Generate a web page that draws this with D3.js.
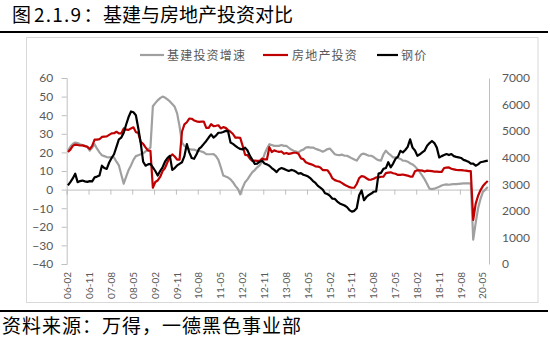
<!DOCTYPE html>
<html><head><meta charset="utf-8">
<script src="https://cdn.jsdelivr.net/npm/d3@7"></script>
<style>body{margin:0;background:#fff}svg{display:block}</style>
</head><body>
<svg id="c" width="550" height="346"></svg>
<script>
// ---- data ----
const titleParts = ["图", "2.1.9", "：", "基建与房地产投资对比"];
const sourceText = "资料来源：万得，一德黑色事业部";
const seriesNames = ["基建投资增速", "房地产投资", "钢价"];
const firstMonth = "2006-02";
const leftTicks = [60, 50, 40, 30, 20, 10, 0, -10, -20, -30, -40];
const rightTicks = [7000, 6000, 5000, 4000, 3000, 2000, 1000, 0];
const xTickLabels = ["06-02","06-11","07-08","08-05","09-02","09-11","10-08","11-05","12-02","12-11",
  "13-08","14-05","15-02","15-11","16-08","17-05","18-02","18-11","19-08","20-05"];

const infraGrowth = [
  21,23,24.5,25.3,25,24.4,24,23.5,23,21,
  22.5,24.4,22,20,18.5,18,17.5,17.3,17.5,17.3,
  15,13,8,3.2,7,10.5,13,16,18,18.5,
  19,19.5,20.5,21.5,22.6,44.8,46.5,48,49.2,50,
  49.5,48.5,47.4,46,44.5,41,34,25.3,23.5,22.5,
  21.8,21.5,21.5,21,20.9,20.5,20,19.1,19,19,
  19.1,18,16,12,7.6,7,6.5,5.5,4,2,
  0.5,-2.5,1,4,5.5,7.5,9.4,10.5,12,13,
  15,19,22,24.4,24,23.5,23.5,23.5,24,23.5,
  23.5,22.5,21.5,20.9,20.5,20,21,21.5,22.6,22.8,
  22.6,22.6,22,21.5,21,20.4,21,21.8,22,20.5,
  19,18.6,18.5,18.8,18.2,18.2,17.5,16.8,16.2,15.6,
  17.5,19.1,19.3,18.8,18.2,18.2,17.5,16.5,15.8,15.6,
  19,20.9,19.5,18.5,17.3,17.3,17,16.5,15.6,15.5,
  15,14.1,13.5,12.5,11,9.4,7.5,5.5,3,0.5,
  0.3,0.5,1,1.5,2.2,2.6,2.8,2.6,2.8,3,
  2.9,3.1,3.2,3.3,3.3,3.4,3.4,-26.9,-18,-10,
  -5,-1.2,0,1.4
];

const realEstate = [
  20.2,21.5,23.5,24.2,24.0,23.7,23.8,23.4,23.0,21.8,
  23.5,26.9,26.9,27.1,28.3,28.5,28.6,29.4,30.2,30.3,
  31.1,30.2,30.2,32.9,32.2,32.1,32.9,33.5,30.9,30.5,
  25.6,24.6,22.7,20.9,20.9,1.0,4.1,4.9,6.8,9.9,
  11.6,14.7,17.7,18.9,17.8,16.1,16.1,31.1,35.1,36.2,
  38.2,38.1,37.2,36.7,36.4,36.5,36.5,33.2,33.2,35.2,
  34.1,34.3,34.6,32.9,33.6,33.2,32.0,31.1,29.9,27.9,
  27.9,27.8,23.5,18.7,18.5,16.6,15.4,15.6,15.4,15.4,
  16.7,16.2,16.2,22.8,20.2,21.1,20.6,20.3,20.5,19.3,
  19.7,19.2,19.5,19.8,19.8,19.3,16.8,16.4,14.7,14.1,
  13.7,13.2,12.5,12.4,11.9,10.5,10.5,10.4,8.5,6.0,
  5.1,4.6,4.3,3.5,2.6,2.0,1.3,1.0,1.0,3.0,
  6.2,7.2,7.0,6.1,5.3,5.4,5.8,6.6,6.5,6.9,
  6.9,8.9,9.1,9.3,8.8,8.5,7.9,7.9,8.1,7.8,
  7.5,7.0,7.0,9.9,10.4,10.3,10.2,9.7,10.2,10.1,
  9.9,9.7,9.7,9.5,9.5,11.6,11.8,11.9,11.2,10.9,
  10.6,10.5,10.5,10.3,10.2,9.9,9.9,-16.3,-7.7,-3.3,
  -0.3,1.9,3.4,4.6
];

const steelPrice = [
  2960,3080,3220,3400,3080,3120,3140,3110,3090,3120,
  3110,3260,3290,3330,3700,3610,3580,3820,3990,4130,
  4410,4690,4760,4940,5250,5530,5740,5710,5600,5110,
  4550,3850,3700,3750,3770,3640,3500,3330,3500,3640,
  3850,3990,4070,3540,3610,3710,3770,3830,4060,4510,
  4200,3990,3960,4130,4330,4410,4520,4630,4760,4880,
  4760,4830,4940,4940,4970,5010,4990,4570,4520,4450,
  4380,4330,4310,4380,4270,4070,3920,3770,3780,3850,
  3890,3780,3750,3700,3610,3540,3460,3570,3610,3580,
  3540,3500,3540,3520,3470,3400,3420,3360,3330,3290,
  3220,3120,3050,2940,2870,2800,2660,2630,2560,2460,
  2450,2350,2280,2240,2200,2140,2030,1970,2000,2100,
  2590,2770,2400,2520,2600,2650,2720,2730,3400,3430,
  3580,3610,3830,3640,3780,3960,4040,4260,4200,4290,
  4410,4690,4380,4270,4070,4130,4200,4270,4450,4550,
  4630,4550,4380,4010,4060,4100,4140,4100,4140,4060,
  4030,4010,3990,3920,3890,3850,3780,3780,3700,3750,
  3830,3850,3870,3890
];

const N = infraGrowth.length;
if (realEstate.length !== N || steelPrice.length !== N || N !== 174)
  throw new Error("length mismatch " + N + " " + realEstate.length + " " + steelPrice.length);

const colors = ["#a0a0a0", "#c00000", "#000000"];
const axisGray = "#bfbfbf";
const textGray = "#595959";
const cjk = "'Noto Sans CJK SC', sans-serif";
const numFont = "Lato, 'Open Sans', sans-serif";

// ---- layout ----
const svg = d3.select("#c");
const plotL = 66.7, plotR = 489, plotT = 78, plotB = 264;

const parse = d3.timeParse("%Y-%m");
const start = parse(firstMonth);
const months = d3.timeMonth.range(start, d3.timeMonth.offset(start, N));
const fmt = d3.timeFormat("%y-%m");

const x = d3.scaleBand().domain(d3.range(N)).range([plotL, plotR]).padding(0);
const xb = d3.scaleLinear().domain([0, N]).range([plotL, plotR]);
const yL = d3.scaleLinear().domain([-40, 60]).range([plotB, plotT]);
const yR = d3.scaleLinear().domain([0, 7000]).range([plotB, plotT]);
const xc = i => x(i) + x.bandwidth() / 2;

// title
const title = svg.append("text").attr("y", 22)
  .attr("font-family", cjk).attr("font-size", 19).attr("fill", "#000");
title.append("tspan").attr("x", 12).text(titleParts[0]);
title.append("tspan").attr("x", 34).attr("letter-spacing", 1.2).text(titleParts[1]);
title.append("tspan").attr("x", 83.5).text(titleParts[2]);
title.append("tspan").attr("x", 103).text(titleParts[3]);
svg.append("line").attr("x1", 0).attr("x2", 548).attr("y1", 32).attr("y2", 32)
  .attr("stroke", "#000").attr("stroke-width", 2);

// chart box
svg.append("rect").attr("x", 26.5).attr("y", 37.5).attr("width", 511.5).attr("height", 265)
  .attr("fill", "none").attr("stroke", "#d9d9d9").attr("stroke-width", 1);

// left axis
const gL = svg.append("g").attr("transform", `translate(${plotL},0)`)
  .call(d3.axisLeft(yL).tickValues(leftTicks).tickSize(5).tickPadding(8.5).tickFormat(d3.format("d")));
gL.select(".domain").attr("stroke", axisGray);
gL.selectAll(".tick line").attr("stroke", axisGray);
gL.selectAll("text").attr("font-family", numFont).attr("font-size", 12).attr("fill", textGray);

// right axis
const gR = svg.append("g").attr("transform", `translate(${plotR},0)`)
  .call(d3.axisRight(yR).tickValues(rightTicks).tickSize(0).tickPadding(13).tickFormat(d3.format("d")));
gR.select(".domain").attr("stroke", axisGray);
gR.selectAll("text").attr("font-family", numFont).attr("font-size", 12).attr("fill", textGray);

// x axis line at zero with ticks at category boundaries
const gX = svg.append("g").attr("transform", `translate(0,${yL(0)})`)
  .call(d3.axisBottom(xb).tickValues(d3.range(0, N, 9)).tickSize(5).tickFormat(""));
gX.select(".domain").attr("stroke", axisGray);
gX.selectAll(".tick line").attr("stroke", axisGray);

// x labels
const gXL = svg.append("g").attr("transform", `translate(0,272)`)
  .call(d3.axisBottom(x).tickValues(d3.range(0, N, 9)).tickSize(0)
    .tickFormat((i, k) => xTickLabels[k] !== undefined ? xTickLabels[k] : fmt(months[i])));
gXL.select(".domain").remove();
gXL.selectAll("text")
  .attr("transform", "rotate(-90)").attr("x", 0).attr("y", 0).attr("dy", "0.35em")
  .attr("text-anchor", "end")
  .attr("font-family", numFont).attr("font-size", 10).attr("fill", textGray);

// lines
const lineL = d3.line().x((d, i) => xc(i)).y(d => yL(d));
const lineR = d3.line().x((d, i) => xc(i)).y(d => yR(d));
svg.append("path").datum(infraGrowth).attr("d", lineL)
  .attr("fill", "none").attr("stroke", colors[0]).attr("stroke-width", 2.2).attr("stroke-linejoin", "round");
svg.append("path").datum(realEstate).attr("d", lineL)
  .attr("fill", "none").attr("stroke", colors[1]).attr("stroke-width", 2.2).attr("stroke-linejoin", "round");
svg.append("path").datum(steelPrice).attr("d", lineR)
  .attr("fill", "none").attr("stroke", colors[2]).attr("stroke-width", 2.2).attr("stroke-linejoin", "round");

// legend
const legendItems = [
  {x1: 140, x2: 164, tx: 167},
  {x1: 263, x2: 288, tx: 292},
  {x1: 377, x2: 398, tx: 401}
];
legendItems.forEach((it, k) => {
  svg.append("line").attr("x1", it.x1).attr("x2", it.x2).attr("y1", 55).attr("y2", 55)
    .attr("stroke", colors[k]).attr("stroke-width", 2.2);
  svg.append("text").attr("x", it.tx).attr("y", 59.5)
    .attr("font-family", cjk).attr("font-size", 12).attr("letter-spacing", 1.2)
    .attr("fill", textGray).text(seriesNames[k]);
});

// footer
svg.append("line").attr("x1", 0).attr("x2", 548).attr("y1", 311).attr("y2", 311)
  .attr("stroke", "#000").attr("stroke-width", 2);
svg.append("text").attr("x", 2).attr("y", 333)
  .attr("font-family", cjk).attr("font-size", 19).attr("letter-spacing", 1)
  .attr("fill", "#000").text(sourceText);
</script>
</body></html>
